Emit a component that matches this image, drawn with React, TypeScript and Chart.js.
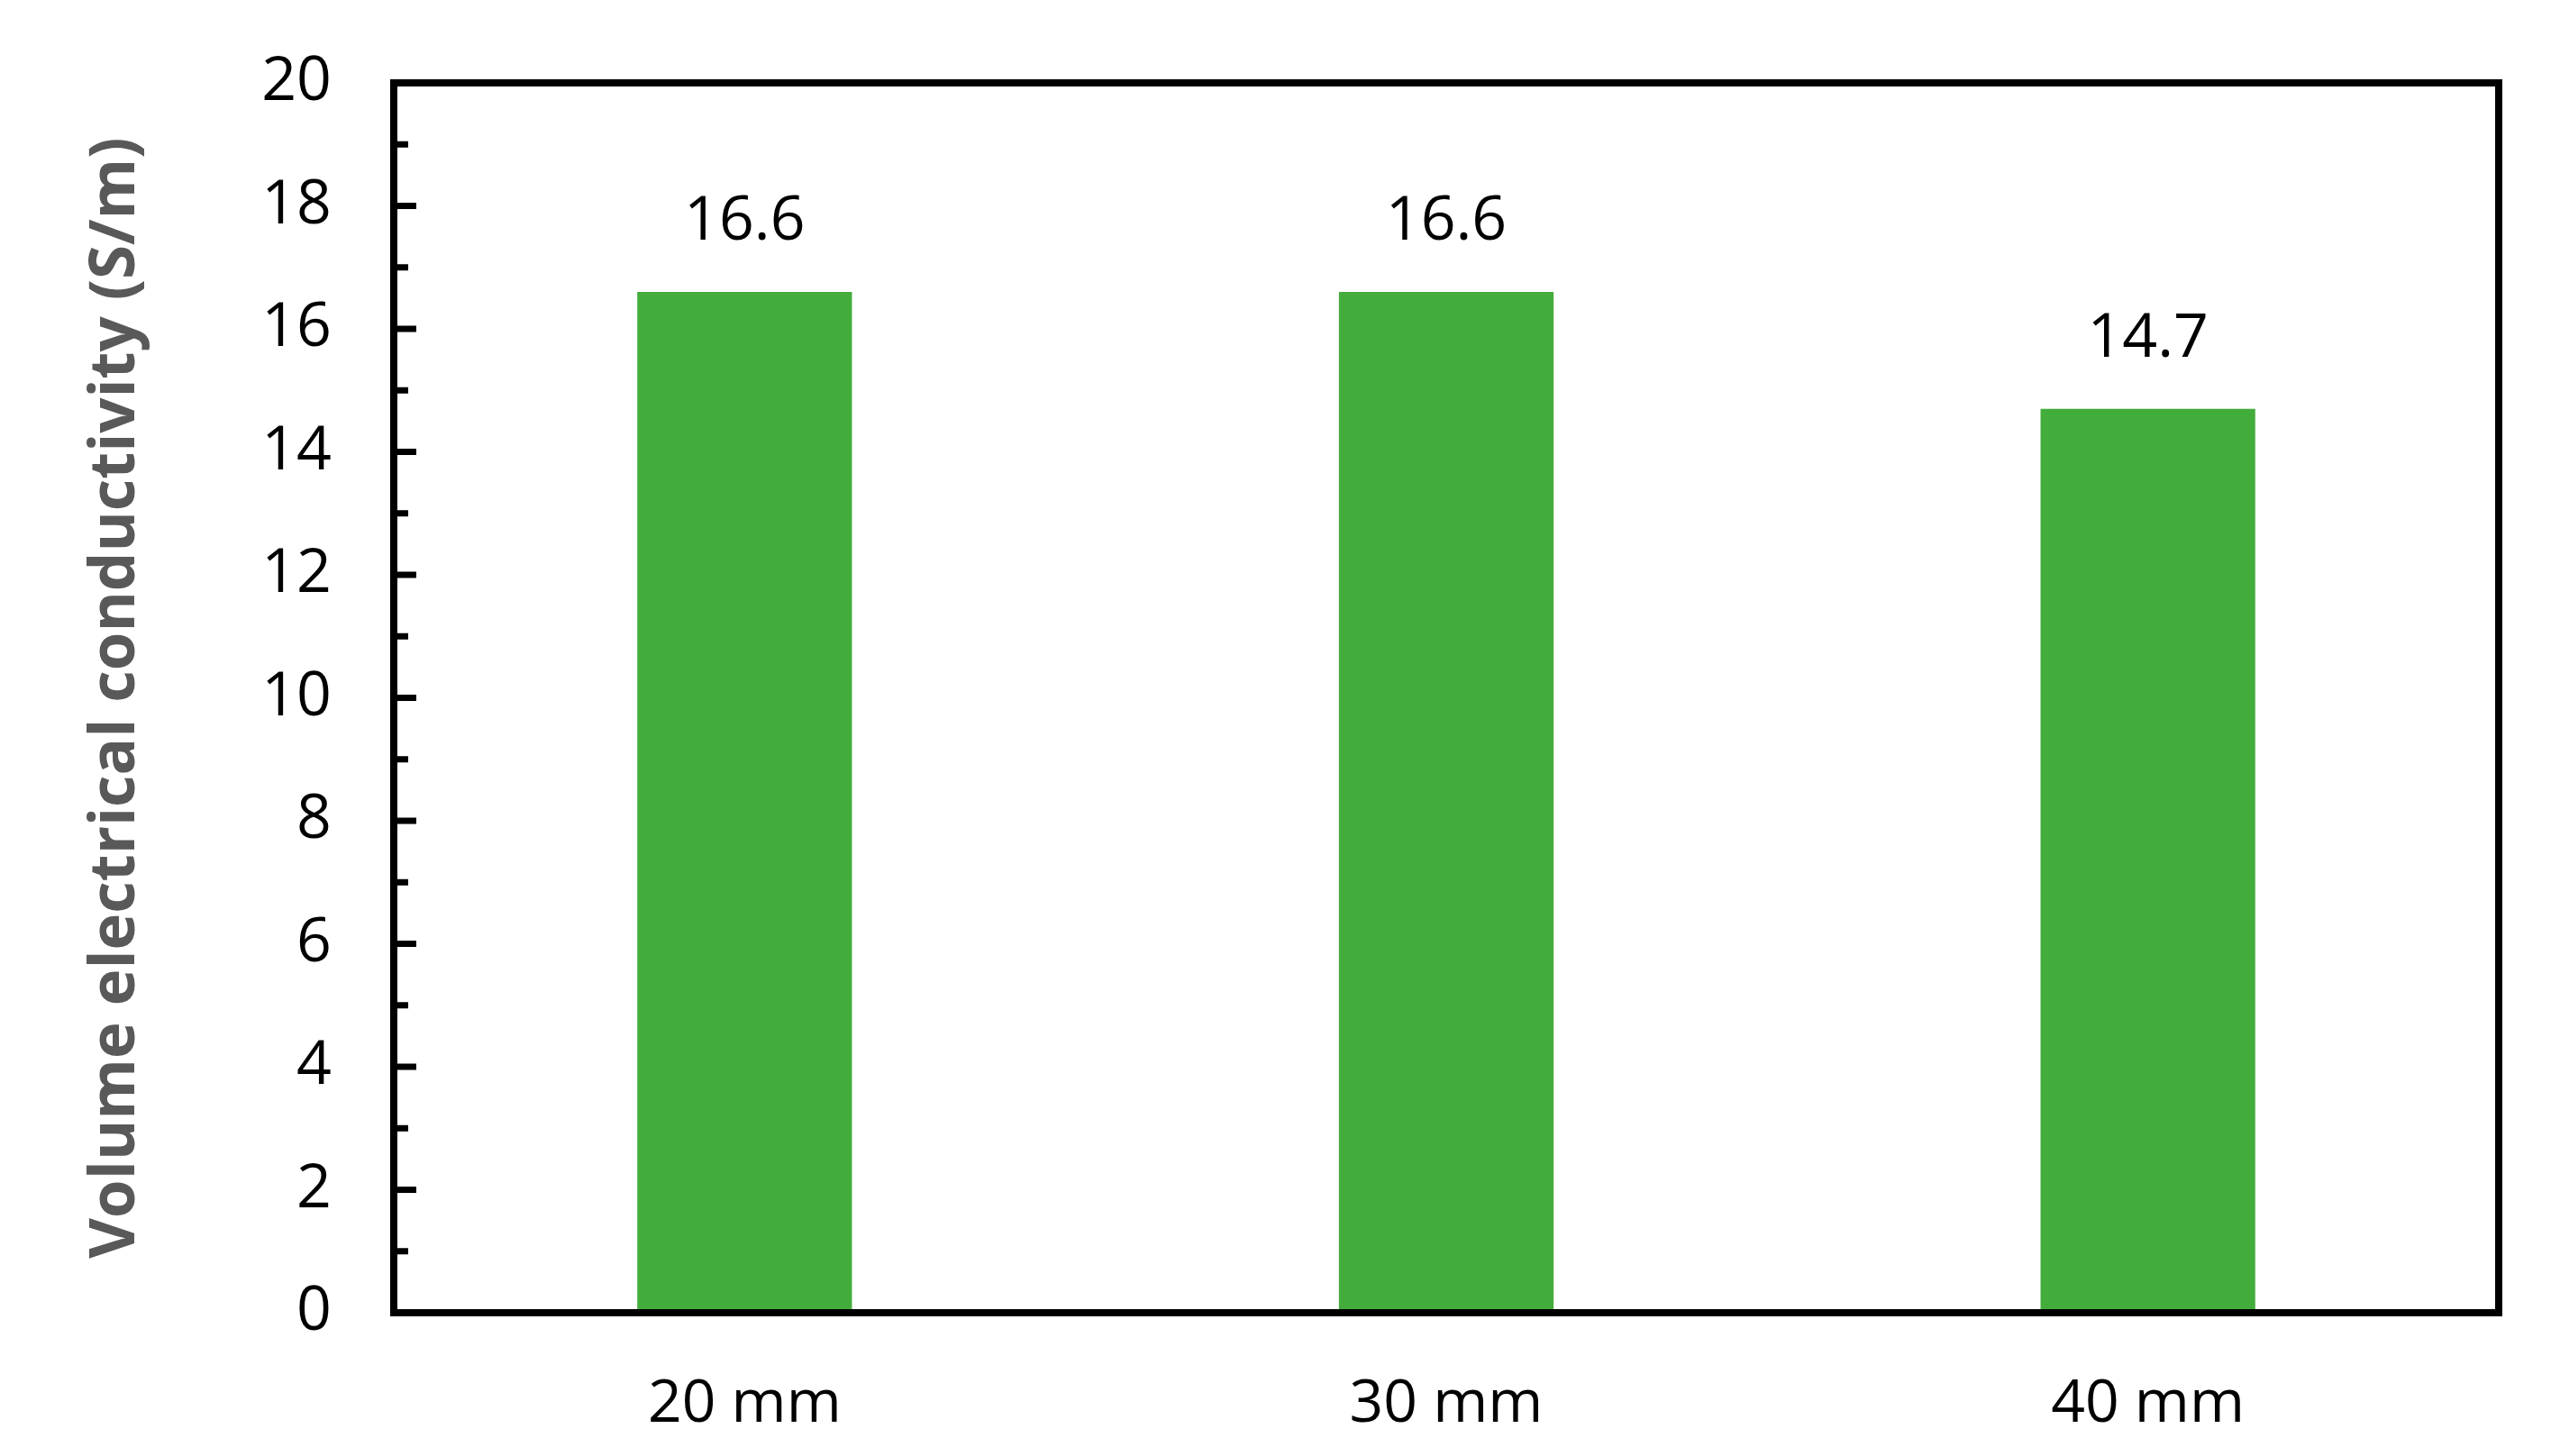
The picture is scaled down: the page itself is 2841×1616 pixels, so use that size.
import { useEffect, useRef } from "react";
import { Chart, registerables } from "chart.js";
import type { Plugin } from "chart.js";

Chart.register(...registerables);

const categories = ["20 mm", "30 mm", "40 mm"];
const conductivity = [16.6, 16.6, 14.7];
const yMajorTicks = [0, 2, 4, 6, 8, 10, 12, 14, 16, 18, 20];
const yMinorTicks = [1, 3, 5, 7, 9, 11, 13, 15, 17, 19];
const yTitle = "Volume electrical conductivity (S/m)";

const FONT = "'Open Sans', 'DejaVu Sans', sans-serif";

/** Draws the black frame round the plot area and the inward y ticks. */
const framePlugin: Plugin<"bar"> = {
  id: "frame",
  afterDraw(chart) {
    const { ctx, chartArea } = chart;
    const y = chart.scales.y;
    ctx.save();
    ctx.strokeStyle = "#000000";
    ctx.lineWidth = 8;
    ctx.lineJoin = "miter";
    ctx.strokeRect(
      chartArea.left,
      chartArea.top,
      chartArea.right - chartArea.left,
      chartArea.bottom - chartArea.top,
    );
    ctx.lineWidth = 7;
    ctx.beginPath();
    for (const value of yMajorTicks) {
      const py = y.getPixelForValue(value);
      ctx.moveTo(chartArea.left, py);
      ctx.lineTo(chartArea.left + 25, py);
    }
    for (const value of yMinorTicks) {
      const py = y.getPixelForValue(value);
      ctx.moveTo(chartArea.left, py);
      ctx.lineTo(chartArea.left + 16, py);
    }
    ctx.stroke();
    ctx.restore();
  },
};

/** Writes each bar's value above it. */
const valueLabelPlugin: Plugin<"bar"> = {
  id: "valueLabels",
  afterDatasetsDraw(chart) {
    const { ctx } = chart;
    const meta = chart.getDatasetMeta(0);
    ctx.save();
    ctx.fillStyle = "#000000";
    ctx.font = `68px ${FONT}`;
    ctx.textAlign = "center";
    ctx.textBaseline = "middle";
    meta.data.forEach((bar, index) => {
      ctx.fillText(conductivity[index].toFixed(1), bar.x, bar.y - 77);
    });
    ctx.restore();
  },
};

export default function App(): JSX.Element {
  const canvasRef = useRef<HTMLCanvasElement | null>(null);

  useEffect(() => {
    const canvas = canvasRef.current;
    if (!canvas) {
      return;
    }

    const chart = new Chart(canvas, {
      type: "bar",
      data: {
        labels: categories,
        datasets: [
          {
            label: "Conductivity",
            data: conductivity,
            backgroundColor: "#43ad3b",
            borderWidth: 0,
            categoryPercentage: 1,
            barPercentage: 0.306,
          },
        ],
      },
      options: {
        animation: false,
        responsive: true,
        maintainAspectRatio: false,
        layout: { padding: { top: 92, right: 68, left: 0, bottom: 0 } },
        plugins: {
          legend: { display: false },
          tooltip: { enabled: false },
        },
        scales: {
          x: {
            grid: { display: false, drawTicks: false },
            border: { display: false },
            ticks: {
              color: "#000000",
              font: { family: FONT, size: 66 },
              padding: 63,
            },
            afterFit: (scale) => {
              scale.height = 159;
            },
          },
          y: {
            min: 0,
            max: 20,
            grid: { display: false, drawTicks: false },
            border: { display: false },
            ticks: {
              stepSize: 2,
              color: "#000000",
              font: { family: FONT, size: 68 },
              padding: 69,
            },
            title: {
              display: true,
              text: yTitle,
              color: "#595959",
              font: { family: FONT, size: 69, weight: "bold" },
              padding: { top: 88, bottom: 0 },
            },
            afterFit: (scale) => {
              scale.width = 437;
              scale.paddingTop = 0;
              scale.paddingBottom = 0;
            },
          },
        },
      },
      plugins: [framePlugin, valueLabelPlugin],
    });

    return () => {
      chart.destroy();
    };
  }, []);

  return (
    <div
      style={{
        position: "fixed",
        left: 0,
        top: 0,
        width: "2841px",
        height: "1616px",
        background: "#ffffff",
      }}
    >
      <canvas ref={canvasRef} />
    </div>
  );
}
